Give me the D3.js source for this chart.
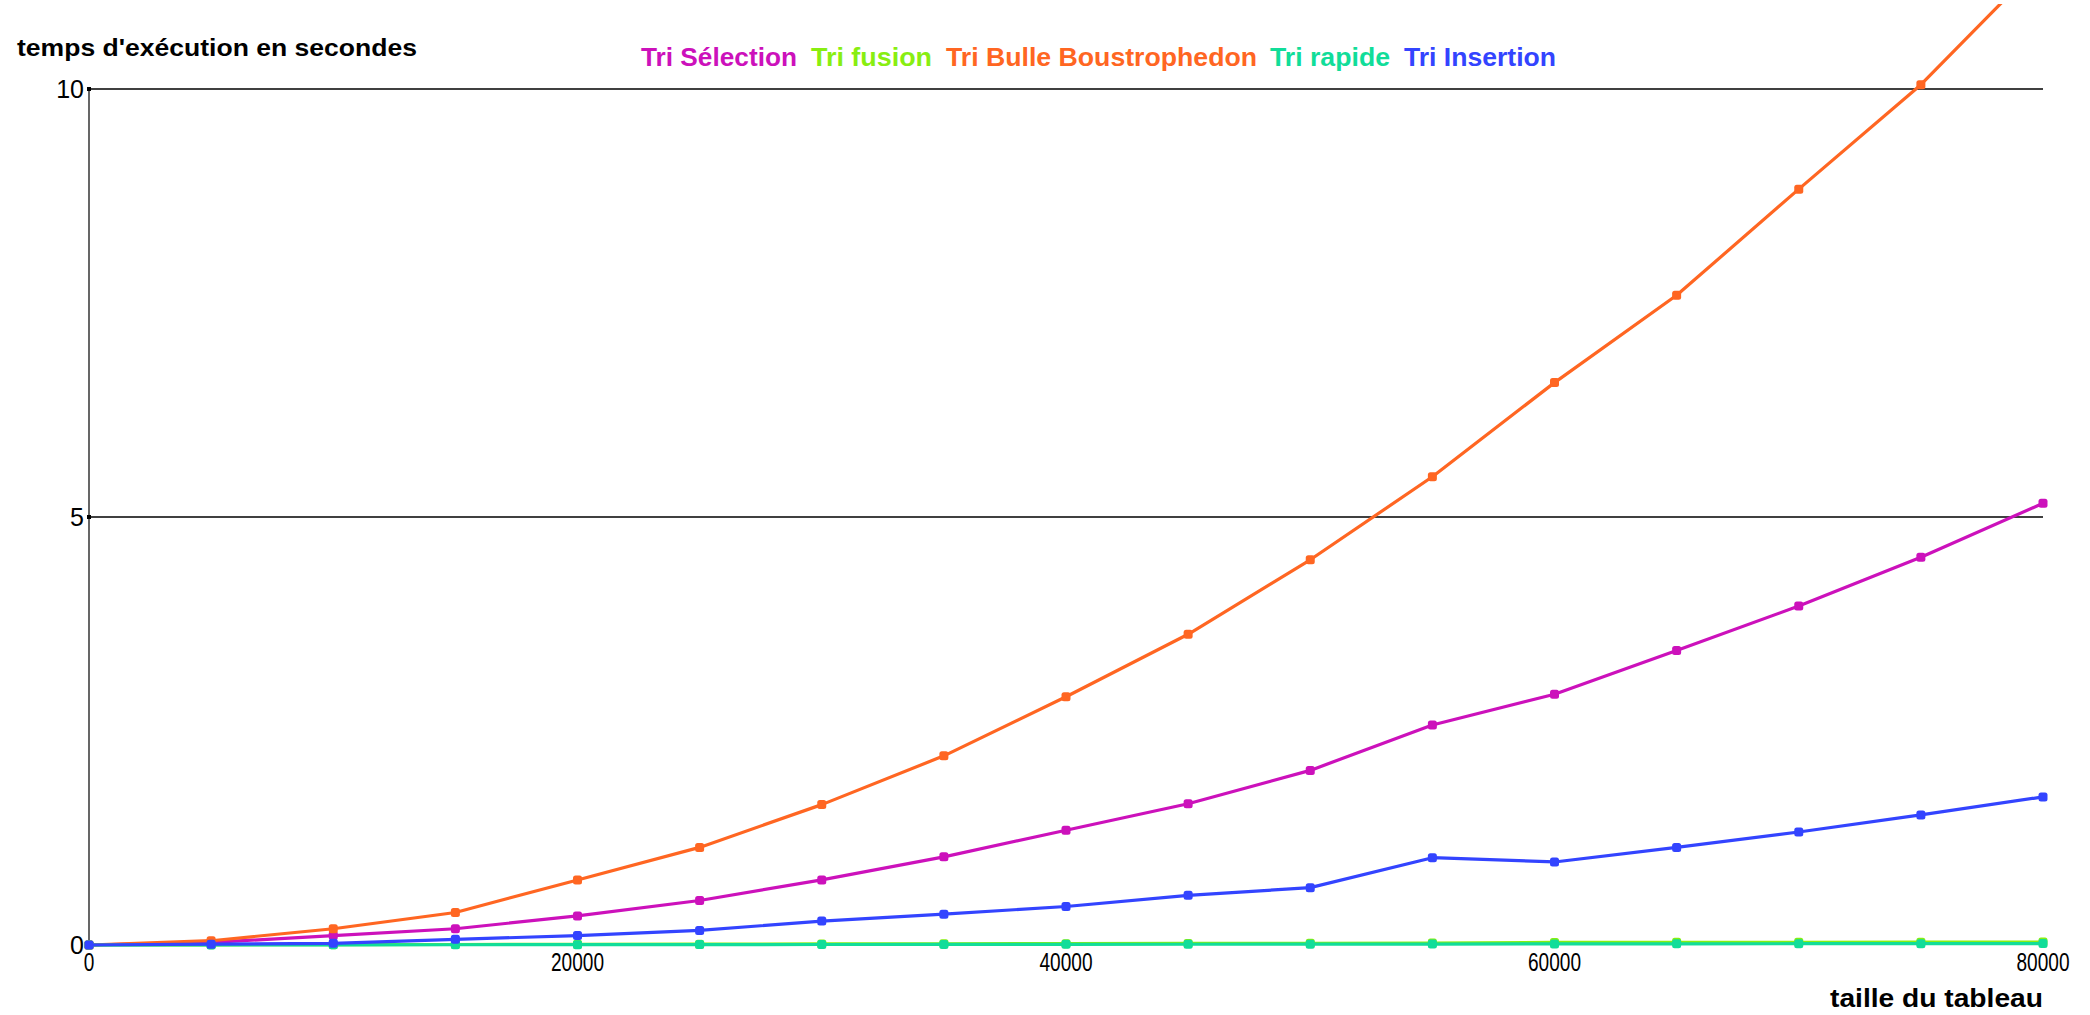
<!DOCTYPE html>
<html><head><meta charset="utf-8">
<script src="https://cdn.jsdelivr.net/npm/d3@7"></script>
<style>body{margin:0;background:#fff}svg{display:block}text{font-family:"Liberation Sans",Arial,sans-serif}</style>
</head><body><svg id="c" width="2090" height="1015"></svg>
<script>
const sizes = [0,5000,10000,15000,20000,25000,30000,35000,40000,45000,50000,55000,60000,65000,70000,75000,80000];
const selection = [0,0.03,0.11,0.19,0.34,0.52,0.76,1.03,1.34,1.65,2.04,2.57,2.93,3.44,3.96,4.53,5.16];
const fusion = [0,0.002,0.004,0.006,0.008,0.01,0.012,0.014,0.016,0.018,0.02,0.022,0.03,0.031,0.032,0.033,0.034];
const bulle = [0,0.05,0.19,0.38,0.76,1.14,1.64,2.21,2.90,3.63,4.50,5.47,6.57,7.59,8.83,10.05,11.5];
const rapide = [0,0.001,0.002,0.003,0.004,0.005,0.006,0.007,0.008,0.009,0.01,0.011,0.013,0.014,0.015,0.016,0.017];
const insertion = [0,0.01,0.02,0.066,0.11,0.17,0.28,0.36,0.45,0.58,0.67,1.02,0.97,1.14,1.32,1.52,1.73];
const seriesNames = ["Tri Sélection","Tri fusion","Tri Bulle Boustrophedon","Tri rapide","Tri Insertion"];
const seriesColors = ["#cc11bb","#88ee11","#ff6622","#11dd99","#3344ff"];
const seriesValues = [selection,fusion,bulle,rapide,insertion];
const xTicks = [0,20000,40000,60000,80000];
const yTicks = [0,5,10];
const yTitle = "temps d'exécution en secondes";
const xTitle = "taille du tableau";

const svg = d3.select("#c");
const x = d3.scaleLinear().domain([0,80000]).range([89,2043]);
const y = d3.scaleLinear().domain([0,10]).range([945,89]);

svg.append("defs").append("clipPath").attr("id","clip")
  .append("rect").attr("x",80).attr("y",4).attr("width",1980).attr("height",1000);

// grid lines
svg.append("g").selectAll("line").data(yTicks.filter(d=>d>0)).join("line")
  .attr("x1",x(0)).attr("x2",x(80000)).attr("y1",d=>y(d)).attr("y2",d=>y(d))
  .attr("stroke","#000").attr("stroke-width",1.5);
// y axis line
svg.append("line").attr("x1",x(0)).attr("x2",x(0)).attr("y1",y(0)).attr("y2",y(10)).attr("stroke","#000").attr("stroke-width",1.2);
svg.append("g").selectAll("rect").data(yTicks.filter(d=>d>0)).join("rect")
  .attr("x",x(0)-2).attr("y",d=>y(d)-2).attr("width",4).attr("height",4).attr("fill","#000");
// y tick labels
svg.append("g").selectAll("text").data(yTicks).join("text")
  .attr("x",x(0)-5).attr("y",d=>y(d)+9).attr("text-anchor","end")
  .attr("font-size",25).attr("fill","#000").text(d=>d);
// x tick labels
svg.append("g").selectAll("text").data(xTicks).join("text")
  .attr("x",d=>x(d)).attr("y",y(0)+26).attr("text-anchor","middle")
  .attr("font-size",26).attr("fill","#000").attr("textLength",d=>String(d).length*10.6).attr("lengthAdjust","spacingAndGlyphs").text(d=>d);

// titles
svg.append("text").attr("x",17).attr("y",56).attr("font-size",24).attr("font-weight","bold").attr("textLength",400).attr("lengthAdjust","spacingAndGlyphs").text(yTitle);
svg.append("text").attr("x",2043).attr("y",1007).attr("text-anchor","end").attr("font-size",26).attr("font-weight","bold").attr("textLength",213).attr("lengthAdjust","spacingAndGlyphs").text(xTitle);

// lines
const line = d3.line().x((d,i)=>x(sizes[i])).y(d=>y(d));
const g = svg.append("g").attr("clip-path","url(#clip)");
seriesValues.forEach((vals,k)=>{
  g.append("path").datum(vals).attr("d",line).attr("fill","none")
    .attr("stroke",seriesColors[k]).attr("stroke-width",3.2).attr("stroke-linejoin","round");
  g.append("g").selectAll("rect").data(vals).join("rect")
    .attr("x",(d,i)=>x(sizes[i])-4.5).attr("y",d=>y(d)-4.5).attr("width",9).attr("height",9).attr("rx",2.5)
    .attr("fill",seriesColors[k]);
});

// legend
const legWidths = [156,121,311,120,152];
const legX = [641,811,946,1270,1404];
seriesNames.forEach((n,k)=>{
  svg.append("text").attr("x",legX[k]).attr("y",66).attr("font-size",26).attr("font-weight","bold")
    .attr("fill",seriesColors[k]).attr("textLength",legWidths[k]).attr("lengthAdjust","spacingAndGlyphs").text(n);
});
</script></body></html>
